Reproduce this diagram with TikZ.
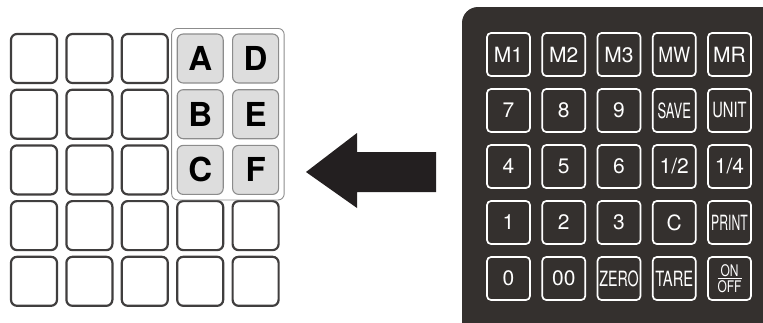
\documentclass[tikz,border=0pt]{standalone}
\usepackage{fontspec}
\setmainfont{TeX Gyre Heros}
\usepackage{amsmath}
\usetikzlibrary{positioning, fit}
\definecolor{keyedge}{RGB}{64,62,62}
\definecolor{keyfill}{RGB}{221,221,221}
\definecolor{groupedge}{RGB}{140,140,140}
\definecolor{panelgray}{RGB}{52,48,46}
\definecolor{arrowblack}{RGB}{35,31,32}
% condensed key caption
\newcommand{\cond}[2]{\scalebox{#1}[1]{#2}}

\begin{document}
\begin{tikzpicture}[
    x=1pt, y=-1pt,
    key/.style={draw=keyedge, line width=2.2pt, rounded corners=6pt, minimum width=46pt, minimum height=49pt, inner sep=0pt},
    lkey/.style={key, draw=groupedge, line width=1.1pt, fill=keyfill, font=\fontsize{33}{33}\selectfont\bfseries, text=black},
    group/.style={draw=groupedge, line width=0.9pt, rounded corners=6pt, inner sep=5pt},
    pkey/.style={draw=white, line width=1.7pt, rounded corners=4pt, minimum width=43pt, minimum height=43pt, inner sep=0pt, text=white, font=\fontsize{21}{21}\selectfont}
  ]
  \useasboundingbox (0,0) rectangle (763,322);
  \clip (0,0) rectangle (763,322);

  % Blank keys of the left pad
  \foreach \c in {0,1,2}
    \foreach \r in {0,...,4}
      \node[key] (k-\r-\c) at ({34+55.4*\c},{58.5+55.7*\r}) {};
  \foreach \c in {3,4}
    \foreach \r in {3,4}
      \node[key] (k-\r-\c) at ({34+55.4*\c},{58.5+55.7*\r}) {};

  % Lettered keys
  \foreach \lt/\c/\r in {A/3/0, B/3/1, C/3/2, D/4/0, E/4/1, F/4/2}
    \node[lkey] (k-\r-\c) at ({34+55.4*\c},{58.5+55.7*\r}) {\lt};
  \node[group, fit=(k-0-3) (k-2-4)] (abc) {};

  % Keyboard panel
  \fill[panelgray, rounded corners=16pt] (462,7) rectangle (790,350);
  \foreach \r/\row in {0/{M1,M2,M3,\cond{0.85}{MW},MR},
                       1/{7,8,9,\cond{0.62}{SAVE},\cond{0.7}{UNIT}},
                       2/{4,5,6,1/2,1/4},
                       3/{1,2,3,C,\cond{0.58}{PRINT}},
                       4/{0,00,\cond{0.68}{ZERO},\cond{0.7}{TARE},\cond{0.75}{\fontsize{16}{16}\selectfont$\genfrac{}{}{1pt}{}{\mbox{ON}}{\mbox{OFF}}$}}}
    \foreach \lbl [count=\c from 0] in \row
      \node[pkey] (p-\r-\c) at ({508.5+55.25*\c},{54.5+56*\r}) {\lbl};

  % Arrow from panel to pad
  \fill[arrowblack] (306,172) -- (357,133) -- (357,152) -- (436,152) -- (436,192) -- (357,192) -- (357,208) -- cycle;

\end{tikzpicture}
\end{document}
